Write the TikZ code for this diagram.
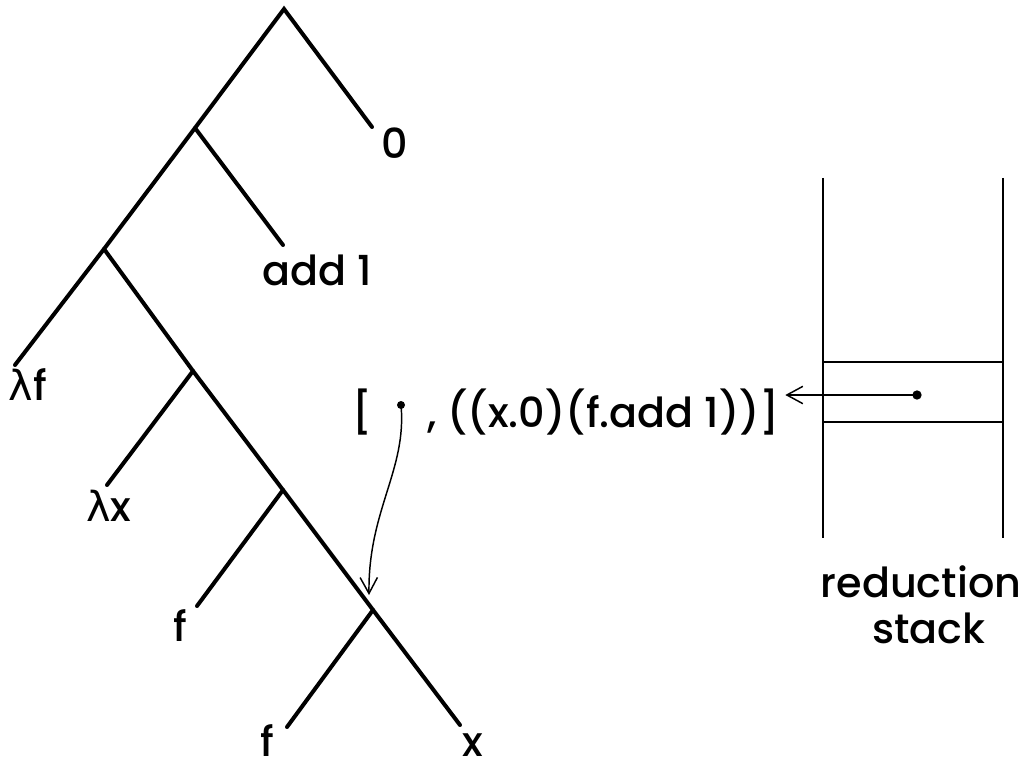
\documentclass[tikz,border=0pt]{standalone}
\usepackage{fontspec}
\setmainfont{Poppins}[UprightFont=* Medium]
\newfontfamily\lamfont{DejaVu Sans}
\usetikzlibrary{arrows.meta}

\tikzset{
  branch/.style={line width=3pt, line cap=round},
  wall/.style={line width=2.2pt},
  ptr/.style={line width=1.1pt, -{Straight Barb[length=12pt, width=13pt]}},
  leaf/.style={anchor=base},
}

\begin{document}
\begin{tikzpicture}[x=0.75pt, y=-0.75pt,
    every node/.style={font=\fontsize{31}{40}\selectfont, inner sep=0pt}]
  \useasboundingbox (0,0) rectangle (1035,763);

  % --- tree: inner joints ---
  \coordinate (root) at (284,9);
  \coordinate (n1) at (195,128);
  \coordinate (n2) at (104,249);
  \coordinate (n3) at (193,371);
  \coordinate (n4) at (283,490);
  \coordinate (n5) at (373,610);
  % leaf ends
  \coordinate (zeroEnd) at (372,127);
  \coordinate (addEnd) at (283,245);
  \coordinate (lfEnd) at (15,365);
  \coordinate (lxEnd) at (107,485);
  \coordinate (fOneEnd) at (197,606);
  \coordinate (fTwoEnd) at (287,727);
  \coordinate (xEnd) at (460,725);

  \draw[branch] (zeroEnd) -- (root) -- (n1) -- (n2) -- (lfEnd);
  \draw[branch] (n1) -- (addEnd);
  \draw[branch] (n2) -- (n3) -- (n4) -- (n5) -- (xEnd);
  \draw[branch] (n3) -- (lxEnd);
  \draw[branch] (n4) -- (fOneEnd);
  \draw[branch] (n5) -- (fTwoEnd);

  % leaf labels
  \node[leaf] (zero) at (395,159) {0};
  \node[leaf] (add) at (317,285) {add 1};
  \node[leaf] (lf) at (28,400) {{\lamfont λ}f};
  \node[leaf] (lx) at (109,521) {{\lamfont λ}x};
  \node[leaf] (fOne) at (180,641) {f};
  \node[leaf] (fTwo) at (267,756) {f};
  \node[leaf] (xLeaf) at (473,756) {x};

  % --- closure record ---
  \node[anchor=base west] (lbr) at (352,427) {[};
  \coordinate (tdot) at (401,405);
  \fill (tdot) circle[radius=3pt];
  \node[anchor=base west, inner xsep=4pt] (rest) at (422,427) {, ((x.0)(f.add 1))]};
  \coordinate (target) at (369,595);
  \draw[ptr] (tdot) .. controls (407,470) and (368,510) .. (target);

  % --- reduction stack ---
  \coordinate (wlTop) at (823,178);
  \coordinate (wlBot) at (823,538);
  \coordinate (wrTop) at (1003,178);
  \coordinate (wrBot) at (1003,538);
  \draw[wall] (wlTop) -- (wlBot);
  \draw[wall] (wrTop) -- (wrBot);
  \draw[wall] (823,362) -- (1003,362);
  \draw[wall] (823,422) -- (1003,422);
  \coordinate (sdot) at (917,395);
  \fill (sdot) circle[radius=3.5pt];
  \draw[ptr] (sdot) -- (rest.east |- sdot);
  \node[anchor=base] (redLbl) at (921,597) {reduction};
  \node[anchor=base] (stackLbl) at (929,643) {stack};
\end{tikzpicture}
\end{document}
